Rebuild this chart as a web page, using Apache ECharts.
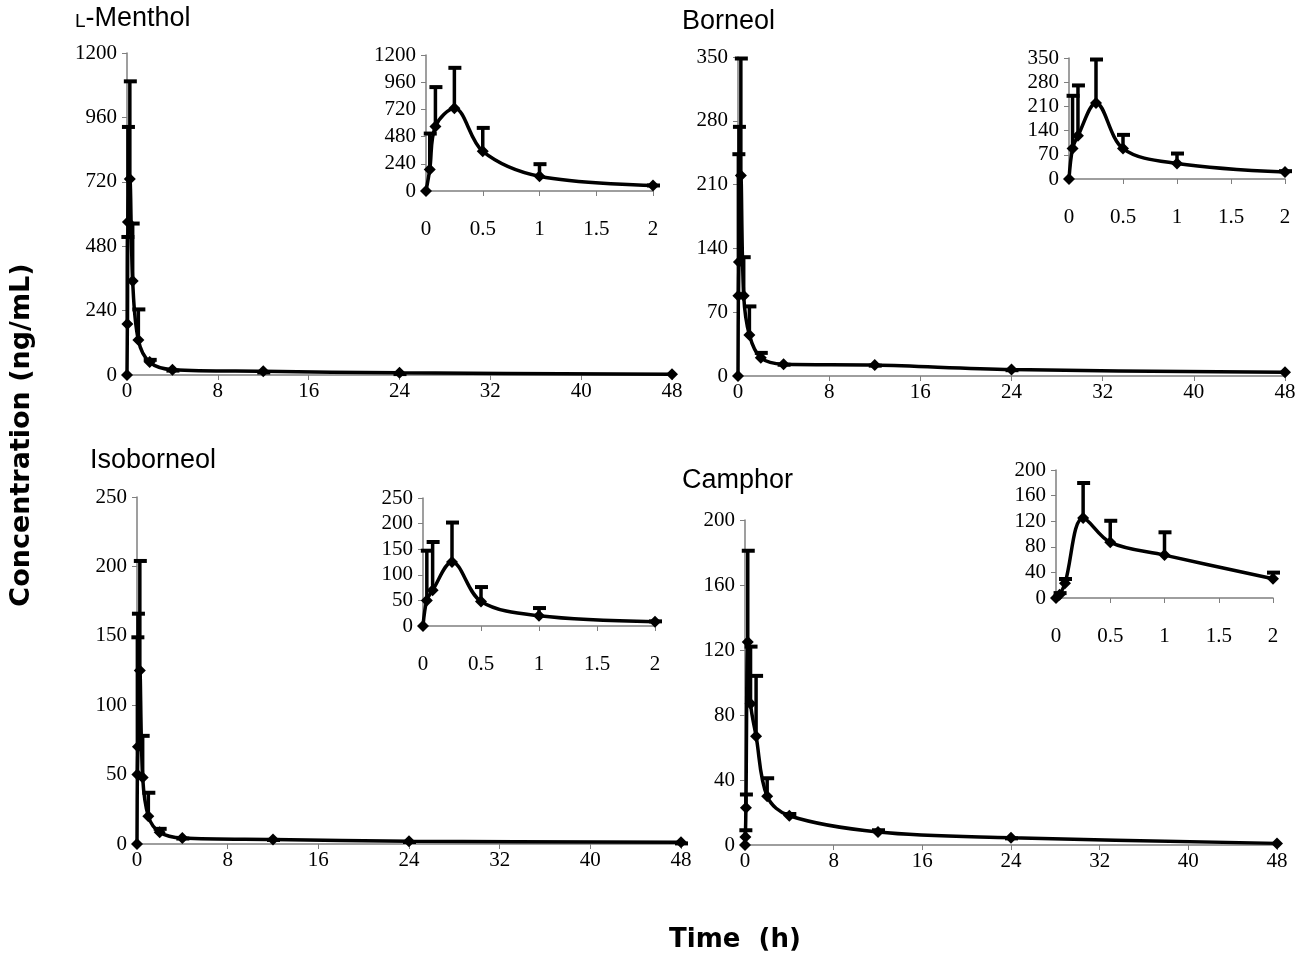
<!DOCTYPE html>
<html>
<head>
<meta charset="UTF-8">
<title>Plasma concentration-time curves</title>
<script src="https://cdn.jsdelivr.net/npm/echarts/dist/echarts.min.js"></script>
</head>
<body style="margin:0;background:#fff">
<div id="main" style="width:1299px;height:959px;"></div>
<script type="text/javascript">
// sampling times (h)
var times = [0, 0.033, 0.083, 0.25, 0.5, 1, 2, 4, 12, 24, 48];

// mean concentration and mean + SD (ng/mL)
var mentholMean  = [0, 190, 570, 730, 350, 130, 48, 20, 14, 8, 3];
var mentholUpper = [0, 520, 930, 1100, 570, 250, 62, 22, 15, 9, 3];
var borneolMean  = [0, 88, 125, 220, 88, 45, 20, 13, 12, 7, 4];
var borneolUpper = [0, 245, 275, 350, 132, 78, 27, 14, 13, 8, 4];
var isoMean      = [0, 50, 70, 125, 48, 20, 8.5, 4.3, 3.2, 2, 1.2];
var isoUpper     = [0, 150, 167, 205, 79, 38, 12, 5, 4, 2.5, 1.5];
var camphorMean  = [0, 5, 23, 125, 87, 67, 30, 18, 8, 4.5, 1];
var camphorUpper = [0, 10, 32, 182, 123, 105, 42, 20, 10, 5, 1];

// y-axis tick labels
var mentholTicks = [0, 240, 480, 720, 960, 1200];
var borneolTicks = [0, 70, 140, 210, 280, 350];
var isoTicks     = [0, 50, 100, 150, 200, 250];
var camphorTicks = [0, 40, 80, 120, 160, 200];
// x-axis tick labels
var mainXTicks  = [0, 8, 16, 24, 32, 40, 48];
var insetXTicks = [0, 0.5, 1, 1.5, 2];

var myChart = echarts.init(document.getElementById('main'));

var panels = [
    {mean: mentholMean, upper: mentholUpper, ticks: mentholTicks,
     main: {left: 127, top: 53, width: 545, height: 322},
     inset: {left: 426, top: 55, width: 227, height: 136}},
    {mean: borneolMean, upper: borneolUpper, ticks: borneolTicks,
     main: {left: 738, top: 57, width: 547, height: 319},
     inset: {left: 1069, top: 58, width: 216, height: 121}},
    {mean: isoMean, upper: isoUpper, ticks: isoTicks,
     main: {left: 137, top: 497, width: 544, height: 347},
     inset: {left: 423, top: 498, width: 232, height: 128}},
    {mean: camphorMean, upper: camphorUpper, ticks: camphorTicks,
     main: {left: 745, top: 520, width: 532, height: 325},
     inset: {left: 1056, top: 470, width: 217, height: 128}}
];

var tickFont = 'Liberation Serif';

function errItem(params, api) {
    var x = api.value(0), m = api.value(1), u = api.value(2);
    if (!(u > m)) return;
    var p0 = api.coord([x, m]);
    var p1 = api.coord([x, u]);
    return {
        type: 'group',
        children: [
            {type: 'line', shape: {x1: p0[0], y1: p0[1], x2: p1[0], y2: p1[1] + 1},
             style: {stroke: '#000', lineWidth: 3.5}},
            {type: 'line', shape: {x1: p1[0] - 6, y1: p1[1] + 1.5, x2: p1[0] + 7, y2: p1[1] + 1.5},
             style: {stroke: '#000', lineWidth: 4}}
        ]
    };
}

var grid = [], xAxis = [], yAxis = [], series = [];

panels.forEach(function (p) {
    ['main', 'inset'].forEach(function (kind) {
        var gi = grid.length;
        var isMain = kind === 'main';
        var xt = isMain ? mainXTicks : insetXTicks;
        grid.push(p[kind]);
        xAxis.push({
            gridIndex: gi, type: 'value',
            min: xt[0], max: xt[xt.length - 1], interval: xt[1] - xt[0],
            splitLine: {show: false},
            axisLine: {lineStyle: {color: '#7f7f7f', width: 1.5}},
            axisTick: {lineStyle: {color: '#7f7f7f'}, length: 5},
            axisLabel: {color: '#000', fontFamily: tickFont, fontSize: 21,
                        margin: isMain ? 6 : 28, showMinLabel: true, showMaxLabel: true,
                        formatter: function (v) { return String(v); }}
        });
        yAxis.push({
            gridIndex: gi, type: 'value',
            min: p.ticks[0], max: p.ticks[p.ticks.length - 1], interval: p.ticks[1] - p.ticks[0],
            splitLine: {show: false},
            axisLine: {show: true, lineStyle: {color: '#7f7f7f', width: 1.5}},
            axisTick: {show: true, lineStyle: {color: '#7f7f7f'}, length: 5},
            axisLabel: {color: '#000', fontFamily: tickFont, fontSize: 21, margin: 10,
                        formatter: function (v) { return String(v); }}
        });
        var maxT = xt[xt.length - 1];
        var pts = [], errs = [];
        times.forEach(function (t, i) {
            if (t <= maxT) {
                pts.push([t, p.mean[i]]);
                errs.push([t, p.mean[i], p.upper[i]]);
            }
        });
        series.push({
            type: 'custom', xAxisIndex: gi, yAxisIndex: gi,
            renderItem: errItem, data: errs, z: 3, clip: false,
            encode: {x: 0, y: [1, 2]}
        });
        series.push({
            type: 'line', xAxisIndex: gi, yAxisIndex: gi, data: pts,
            smooth: 0.35, symbol: 'diamond', symbolSize: 12,
            itemStyle: {color: '#000'},
            lineStyle: {color: '#000', width: 3.5}, z: 4
        });
    });
});

var titleStyle = {fontFamily: 'Liberation Sans', fontSize: 27, fontWeight: 'normal', color: '#000'};

var option = {
    animation: false,
    backgroundColor: '#fff',
    title: [
        {text: '{s|L}-Menthol', left: 70, top: 0,
         textStyle: Object.assign({}, titleStyle, {rich: {s: {fontFamily: 'Liberation Sans', fontSize: 19, color: '#000', padding: [6, 0, 0, 0]}}})},
        {text: 'Borneol', left: 677, top: 3, textStyle: titleStyle},
        {text: 'Isoborneol', left: 85, top: 442, textStyle: titleStyle},
        {text: 'Camphor', left: 677, top: 462, textStyle: titleStyle}
    ],
    grid: grid,
    xAxis: xAxis,
    yAxis: yAxis,
    series: series,
    graphic: [
        {type: 'text', x: 22, y: 435, rotation: Math.PI / 2,
         style: {text: 'Concentration (ng/mL)', fontFamily: 'DejaVu Sans', fontWeight: 'bold',
                 fontSize: 27, fill: '#000', align: 'center', verticalAlign: 'middle'}},
        {type: 'text', x: 735, y: 940,
         style: {text: 'Time  (h)', fontFamily: 'DejaVu Sans', fontWeight: 'bold',
                 fontSize: 26, fill: '#000', align: 'center', verticalAlign: 'middle'}}
    ]
};

myChart.setOption(option);
</script>
</body>
</html>
